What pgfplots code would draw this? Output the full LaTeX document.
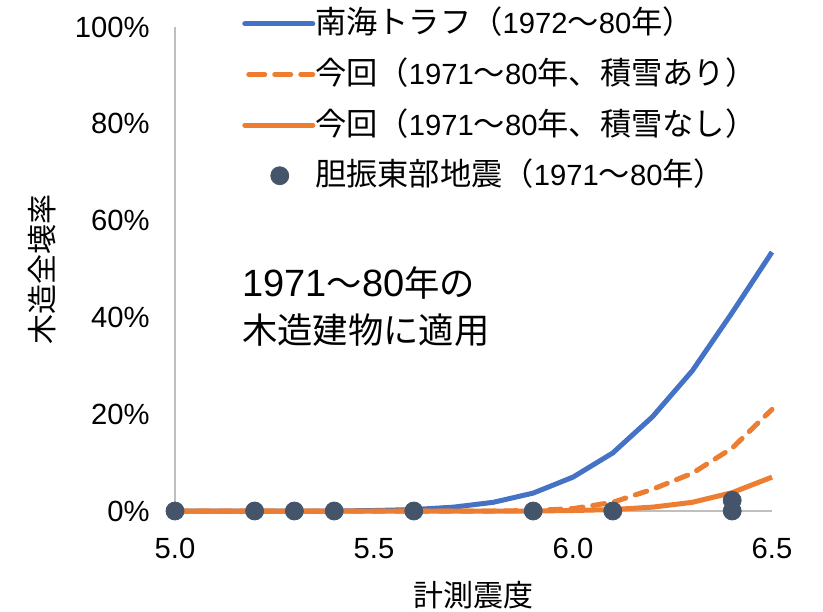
\documentclass[border=0pt]{standalone}
\usepackage{pgfplots}
\pgfplotsset{compat=1.18}
\usepackage{fontspec}
\setmainfont{Liberation Sans}
\newfontfamily\cjk{Noto Sans CJK JP}
\newfontfamily\cjkL[Scale=1.07]{Noto Sans CJK JP}
\newfontfamily\cjkA[Scale=0.93]{Noto Sans CJK JP}
\definecolor{cblue}{HTML}{4472C4}
\definecolor{corange}{HTML}{ED7D31}
\definecolor{cdark}{HTML}{44546A}
\definecolor{caxis}{HTML}{BFBFBF}
\begin{document}
\begin{tikzpicture}
\begin{axis}[
  at={(0,0)}, anchor=south west,
  scale only axis, width=298.5pt, height=242pt,
  xmin=5, xmax=6.5, ymin=0, ymax=100,
  axis x line*=bottom, axis y line*=left,
  axis line style={caxis, line width=0.8pt},
  xtick={5,5.5,6,6.5}, ytick={0,20,40,60,80,100},
  yticklabels={0\%,20\%,40\%,60\%,80\%,100\%},
  major tick length=0pt,
  /pgf/number format/assume math mode=true,
  /pgf/number format/.cd, fixed, fixed zerofill, precision=1, /pgfplots/.cd,
  tick label style={font=\fontsize{14.6}{17}\selectfont},
  xticklabel style={anchor=north, inner sep=0pt, yshift=-13.5pt},
  yticklabel style={anchor=east, inner sep=0pt, xshift=-12.5pt},
  xlabel={\cjk 計測震度},
  ylabel={\cjk 木造全壊率},
  label style={font=\fontsize{15}{17}\selectfont},
  xlabel style={at={(axis description cs:0.5,-0.1736)}, anchor=center},
  ylabel style={at={(axis description cs:-0.2228,0.5)}, anchor=center, rotate=0},
  clip=false,
  legend cell align=left,
  legend style={at={(rel axis cs:0.112,1.032)}, anchor=north west, draw=none, fill=none,
    inner sep=0pt, row sep=11.3pt, font=\fontsize{14.6}{17}\selectfont,
    nodes={inner sep=0pt, text height=11pt, text depth=3pt, xshift=4pt}},
]
\addplot[cblue, line width=2.5pt, line join=round,
  legend image code/.code={\draw[cblue, line width=2.5pt, line cap=round] (0pt,1pt)--(34pt,1pt);}]
 coordinates {(5.0,0)(5.1,0)(5.2,0)(5.3,0)(5.4,0)(5.5,0.1)(5.6,0.3)(5.7,0.8)(5.8,1.8)(5.9,3.7)(6.0,7.0)(6.1,12)(6.2,19.5)(6.3,29)(6.4,41)(6.5,53.5)};
\addlegendentry{\cjkL 南海トラフ（\normalfont 1972\cjkL ～\normalfont 80\cjkL 年）}
\addplot[corange, line width=2.5pt, line cap=round, dash pattern=on 6pt off 5pt,
  legend image code/.code={\draw[corange, line width=2.5pt, line cap=round, dash pattern=on 8pt off 5pt] (2pt,1pt)--(34pt,1pt);}]
 coordinates {(5.0,0)(5.1,0)(5.2,0)(5.3,0)(5.4,0)(5.5,0)(5.6,0)(5.7,0)(5.8,0)(5.9,0.1)(6.0,0.5)(6.1,1.8)(6.2,4.5)(6.3,7.8)(6.4,13)(6.5,21)};
\addlegendentry{\cjkL 今回（\normalfont 1971\cjkL ～\normalfont 80\cjkL 年、積雪あり）}
\addplot[corange, line width=2.5pt, line join=round,
  legend image code/.code={\draw[corange, line width=2.5pt, line cap=round] (0pt,1pt)--(34pt,1pt);}]
 coordinates {(5.0,0)(5.1,0)(5.2,0)(5.3,0)(5.4,0)(5.5,0)(5.6,0)(5.7,0)(5.8,0)(5.9,0)(6.0,0.1)(6.1,0.3)(6.2,0.8)(6.3,1.8)(6.4,3.8)(6.5,7)};
\addlegendentry{\cjkL 今回（\normalfont 1971\cjkL ～\normalfont 80\cjkL 年、積雪なし）}
\addplot[only marks, mark=*, mark size=4.5pt, cdark, mark options={fill=cdark, draw=cdark},
  legend image code/.code={\fill[cdark] (17.5pt,1pt) circle (4.5pt);}]
 coordinates {(5.0,0)(5.2,0)(5.3,0)(5.4,0)(5.6,0)(5.9,0)(6.1,0)(6.4,0)(6.4,2.2)};
\addlegendentry{\cjkL 胆振東部地震（\normalfont 1971\cjkL ～\normalfont 80\cjkL 年）}
\node[anchor=north west, align=left, inner sep=0pt, font=\fontsize{19}{23.5}\selectfont]
  at (rel axis cs:0.112,0.505) {1971\cjkA ～\normalfont 80\cjkA 年の\\ \cjkA 木造建物に適用};
\end{axis}
\pgfresetboundingbox
\path (-87.5pt,-50pt) rectangle (324pt,255.5pt);
\end{tikzpicture}
\end{document}
